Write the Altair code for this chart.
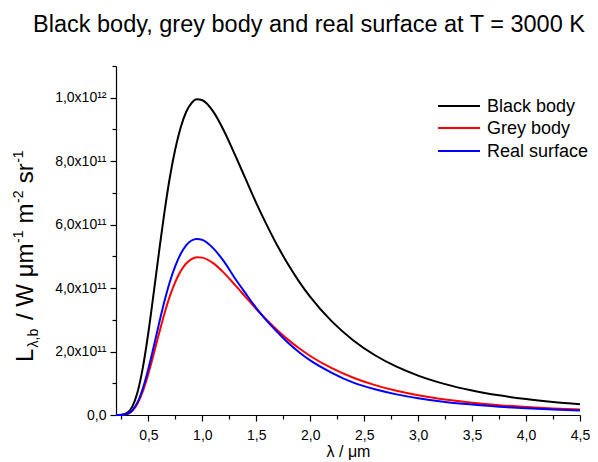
import altair as alt
import pandas as pd

# ---------------- data ----------------
wavelength = [0.20, 0.225, 0.25, 0.30, 0.35, 0.40, 0.45, 0.50, 0.55, 0.60, 0.65, 0.70,
              0.75, 0.80, 0.85, 0.90, 0.95, 1.00, 1.10, 1.20, 1.30, 1.40, 1.50,
              1.60, 1.70, 1.80, 1.90, 2.00, 2.20, 2.40, 2.60, 2.80, 3.00, 3.25,
              3.50, 3.75, 4.00, 4.25, 4.50]

# radiance in units of 1e11
black_body = [0.0, 0.0005, 0.006, 0.056, 0.255, 0.722, 1.515, 2.60, 3.864, 5.17, 6.42, 7.51,
              8.39, 9.07, 9.55, 9.83, 9.95, 9.92, 9.57, 8.96, 8.22, 7.45, 6.68,
              5.97, 5.31, 4.72, 4.19, 3.72, 2.95, 2.35, 1.883, 1.523, 1.242, 0.973,
              0.772, 0.619, 0.502, 0.411, 0.339]

grey_body = [0.0, 0.0003, 0.003, 0.028, 0.128, 0.361, 0.758, 1.30, 1.932, 2.585, 3.21, 3.755,
             4.195, 4.535, 4.775, 4.915, 4.975, 4.96, 4.785, 4.48, 4.11, 3.725, 3.34,
             2.985, 2.655, 2.36, 2.095, 1.86, 1.475, 1.175, 0.942, 0.762, 0.621, 0.487,
             0.386, 0.310, 0.251, 0.206, 0.170]

real_surface = [0.0, 0.0003, 0.003, 0.031, 0.143, 0.404, 0.85, 1.46, 2.16, 2.90, 3.60, 4.21,
                4.70, 5.08, 5.35, 5.50, 5.55, 5.52, 5.26, 4.84, 4.32, 3.84, 3.37,
                2.96, 2.60, 2.26, 1.97, 1.72, 1.33, 1.02, 0.81, 0.65, 0.53, 0.41,
                0.33, 0.26, 0.21, 0.175, 0.145]

series_names = ["Black body", "Grey body", "Real surface"]
series_colors = ["#000000", "#ff0000", "#0000ff"]

x_tick_values = [0.25, 0.5, 0.75, 1.0, 1.25, 1.5, 1.75, 2.0, 2.25, 2.5, 2.75, 3.0,
                 3.25, 3.5, 3.75, 4.0, 4.25, 4.5]
x_major_values = [0.5, 1.0, 1.5, 2.0, 2.5, 3.0, 3.5, 4.0, 4.5]
x_major_labels = ["0,5", "1,0", "1,5", "2,0", "2,5", "3,0", "3,5", "4,0", "4,5"]

y_tick_values = [i * 1e11 for i in range(12)]
y_major_values = [0, 2e11, 4e11, 6e11, 8e11, 1e12]
y_major_labels = ["0,0", "2,0x10¹¹", "4,0x10¹¹", "6,0x10¹¹", "8,0x10¹¹", "1,0x10¹²"]

title_text = "Black body, grey body and real surface at T = 3000 K"
x_title = "λ / μm"

FONT = "Liberation Sans"
W, H = 464, 349

rows = []
for name, vals in zip(series_names, [black_body, grey_body, real_surface]):
    for lam, v in zip(wavelength, vals):
        rows.append({"lam": lam, "L": v * 1e11, "series": name})
df = pd.DataFrame(rows)


def label_expr(values, labels):
    expr = "''"
    for v, l in reversed(list(zip(values, labels))):
        expr = f"abs(datum.value - {v!r}) < 1e-6 * max(1, abs({v!r})) ? '{l}' : ({expr})"
    return expr


x_axis = alt.Axis(
    values=x_tick_values,
    labelExpr=label_expr(x_major_values, x_major_labels),
    tickSize={"condition": {"test": "(round(datum.value*4)) % 2 == 0", "value": 6}, "value": 4},
    labelPadding=7, labelFontSize=14, labelFont=FONT, labelColor="#000",
    labelOverlap=False, labelFlush=False, grid=False,
    domainColor="#000", tickColor="#000", domainWidth=1.2, tickWidth=1.2,
    title=x_title, titleFont=FONT, titleFontSize=16, titleFontWeight="normal",
    titleColor="#000", titleBaseline="alphabetic", titleY=41,
)
y_axis = alt.Axis(
    values=y_tick_values,
    labelExpr=label_expr(y_major_values, y_major_labels),
    tickSize={"condition": {"test": "round(datum.value/1e11) % 2 == 0", "value": 6}, "value": 4},
    labelPadding=4, labelFontSize=14, labelFont=FONT, labelColor="#000",
    labelOverlap=False, labelFlush=False, grid=False,
    domainColor="#000", tickColor="#000", domainWidth=1.2, tickWidth=1.2,
    title=None,
)

lines = alt.Chart(df).mark_line(strokeWidth=2, interpolate="monotone").encode(
    x=alt.X("lam:Q", scale=alt.Scale(domain=[0.2, 4.5], nice=False, zero=False), axis=x_axis),
    y=alt.Y("L:Q", scale=alt.Scale(domain=[0, 1.1e12], nice=False), axis=y_axis),
    color=alt.Color("series:N", scale=alt.Scale(domain=series_names, range=series_colors), legend=None),
    order=alt.Order("lam:Q"),
)

layers = [lines]

# title
layers.append(
    alt.Chart(pd.DataFrame({"t": [title_text]})).mark_text(
        align="left", baseline="alphabetic", fontSize=23.5, font=FONT, color="#000"
    ).encode(x=alt.value(-83), y=alt.value(-34), text="t:N")
)

# legend
leg_rows = [40, 62, 85]
for name, col, yy in zip(series_names, series_colors, leg_rows):
    d = pd.DataFrame({"t": [name]})
    layers.append(alt.Chart(d).mark_rule(color=col, strokeWidth=2).encode(
        x=alt.value(322), x2=alt.value(364), y=alt.value(yy)))
    layers.append(alt.Chart(d).mark_text(align="left", baseline="middle", fontSize=18,
                                         font=FONT, color="#000").encode(
        x=alt.value(371), y=alt.value(yy + 1), text="t:N"))

# y-axis title built from pieces (rotated)
cw = {'L': 0.556, 'λ': 0.52, ',': 0.278, 'b': 0.556, '/': 0.278, 'W': 0.944, 'μ': 0.576,
      'm': 0.833, '-': 0.333, '1': 0.556, '2': 0.556, 's': 0.5, 'r': 0.333}
F, f = 24, 14
pieces = [  # text, size, baseline shift (px, + = toward right/down), gap before (em of F)
    ("L", F, 0, 0),
    ("λ,b", f, 5, 0.05),
    ("/", F, 0, 0.35),
    ("W", F, 0, 0.28),
    ("μm", F, 0, 0.28),
    ("-1", f, -10, 0.02),
    ("m", F, 0, 0.3),
    ("-2", f, -10, 0.02),
    ("sr", F, 0, 0.3),
    ("-1", f, -10, 0.02),
]
base_x = -83
pos = 296  # group y of bottom of the title
for txt, sz, shift, gap in pieces:
    pos -= gap * F
    layers.append(alt.Chart(pd.DataFrame({"t": [txt]})).mark_text(
        angle=270, align="left", baseline="alphabetic", fontSize=sz, font=FONT, color="#000"
    ).encode(x=alt.value(base_x + shift), y=alt.value(pos), text="t:N"))
    pos -= sum(cw.get(c, 0.5) for c in txt) * sz

chart = alt.layer(*layers).properties(
    width=W, height=H,
    autosize=alt.AutoSizeParams(type="none"),
    padding={"left": 108, "top": 58, "right": 10, "bottom": 46},
    background="white",
).configure_view(stroke=None)

chart.save("out.html", embed_options={"renderer": "svg", "actions": False})
